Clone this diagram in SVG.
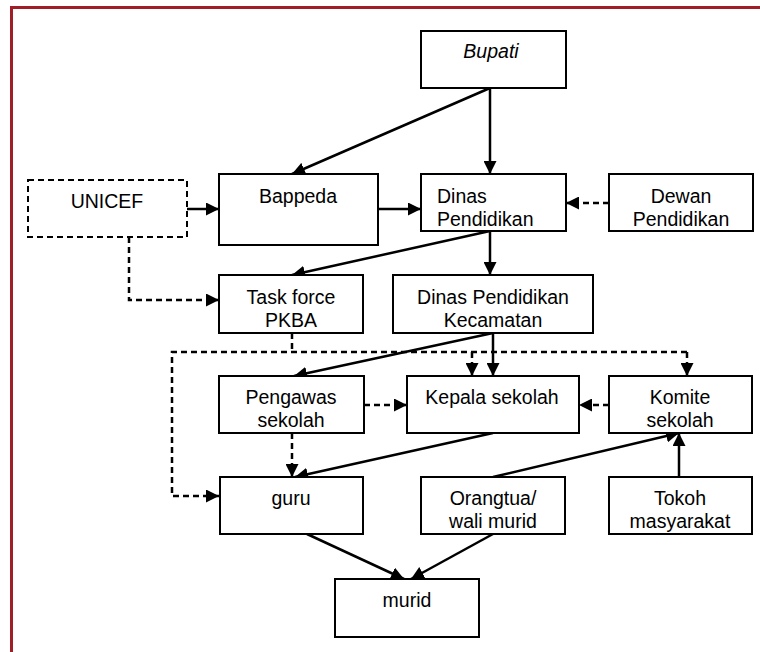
<svg xmlns="http://www.w3.org/2000/svg" width="760" height="652" viewBox="0 0 760 652">
<style>
.box{fill:#fff;stroke:#000;stroke-width:2}
.dbox{fill:#fff;stroke:#000;stroke-width:2;stroke-dasharray:6 4}
.t{font-family:"Liberation Sans",Arial,sans-serif;font-size:19.5px;fill:#000;text-anchor:middle}
.s{fill:none;stroke:#000;stroke-width:2.5}
.d{fill:none;stroke:#000;stroke-width:2.5;stroke-dasharray:6 4}
</style>
<defs>
<marker id="ah" markerUnits="userSpaceOnUse" markerWidth="14" markerHeight="13" refX="13" refY="6.5" orient="auto">
<path d="M0,0 L13,6.5 L0,13 z" fill="#000"/>
</marker>
</defs>
<rect width="760" height="652" fill="#fff"/>
<path d="M11.5,652 L11.5,7.5 L760,7.5" fill="none" stroke="#a01e26" stroke-width="3"/>

<g id="connectors">
<path class="s" d="M490,88 L292,174" marker-end="url(#ah)"/>
<path class="s" d="M490,88 L490,174" marker-end="url(#ah)"/>
<path class="s" d="M187,209 L219,209" marker-end="url(#ah)"/>
<path class="s" d="M378,209 L421,209" marker-end="url(#ah)"/>
<path class="d" d="M609,203 L566,203" marker-end="url(#ah)"/>
<path class="s" d="M490,231 L292,275" marker-end="url(#ah)"/>
<path class="s" d="M490,231 L490,275" marker-end="url(#ah)"/>
<path class="d" d="M129,237 L129,300 L219,300" marker-end="url(#ah)"/>
<path class="d" d="M292,333 L292,352"/>
<path class="d" d="M687,352 L172,352 L172,496 L219,496" marker-end="url(#ah)"/>
<path class="d" d="M472,352 L472,376" marker-end="url(#ah)"/>
<path class="d" d="M687,352 L687,376" marker-end="url(#ah)"/>
<path class="s" d="M493,333 L294,376" marker-end="url(#ah)"/>
<path class="s" d="M493,333 L493,376" marker-end="url(#ah)"/>
<path class="d" d="M364,405 L407,405" marker-end="url(#ah)"/>
<path class="d" d="M609,405 L579,405" marker-end="url(#ah)"/>
<path class="d" d="M292,433 L292,477" marker-end="url(#ah)"/>
<path class="s" d="M493,433 L295,477" marker-end="url(#ah)"/>
<path class="s" d="M493,477 L679,433" marker-end="url(#ah)"/>
<path class="s" d="M679,477 L679,433" marker-end="url(#ah)"/>
<path class="s" d="M307,534 L404,579" marker-end="url(#ah)"/>
<path class="s" d="M493,534 L411,579" marker-end="url(#ah)"/>
</g>

<g id="bupati"><rect class="box" x="421" y="31" width="145" height="57"/><text class="t" x="491" y="58" font-style="italic">Bupati</text></g>
<g id="unicef"><rect class="dbox" x="28" y="180" width="159" height="57"/><text class="t" x="107" y="208">UNICEF</text></g>
<g id="bappeda"><rect class="box" x="219" y="174" width="159" height="71"/><text class="t" x="298" y="203">Bappeda</text></g>
<g id="dinas"><rect class="box" x="421" y="174" width="145" height="57"/><text class="t" x="437" y="203" style="text-anchor:start">Dinas</text><text class="t" x="437" y="226" style="text-anchor:start">Pendidikan</text></g>
<g id="dewan"><rect class="box" x="609" y="174" width="144" height="57"/><text class="t" x="681" y="203">Dewan</text><text class="t" x="681" y="226">Pendidikan</text></g>
<g id="taskforce"><rect class="box" x="219" y="275" width="144" height="58"/><text class="t" x="291" y="304">Task force</text><text class="t" x="291" y="327">PKBA</text></g>
<g id="kecamatan"><rect class="box" x="393" y="275" width="200" height="58"/><text class="t" x="493" y="304">Dinas Pendidikan</text><text class="t" x="493" y="327">Kecamatan</text></g>
<g id="pengawas"><rect class="box" x="219" y="376" width="145" height="57"/><text class="t" x="291" y="404">Pengawas</text><text class="t" x="291" y="427">sekolah</text></g>
<g id="kepala"><rect class="box" x="407" y="376" width="172" height="57"/><text class="t" x="492" y="404">Kepala sekolah</text></g>
<g id="komite"><rect class="box" x="609" y="376" width="143" height="57"/><text class="t" x="680" y="404">Komite</text><text class="t" x="680" y="427">sekolah</text></g>
<g id="guru"><rect class="box" x="220" y="477" width="143" height="57"/><text class="t" x="291" y="505">guru</text></g>
<g id="orangtua"><rect class="box" x="421" y="477" width="144" height="57"/><text class="t" x="493" y="505">Orangtua/</text><text class="t" x="493" y="528">wali murid</text></g>
<g id="tokoh"><rect class="box" x="609" y="477" width="143" height="57"/><text class="t" x="680" y="505">Tokoh</text><text class="t" x="680" y="528">masyarakat</text></g>
<g id="murid"><rect class="box" x="335" y="579" width="144" height="58"/><text class="t" x="407" y="607">murid</text></g>
</svg>
